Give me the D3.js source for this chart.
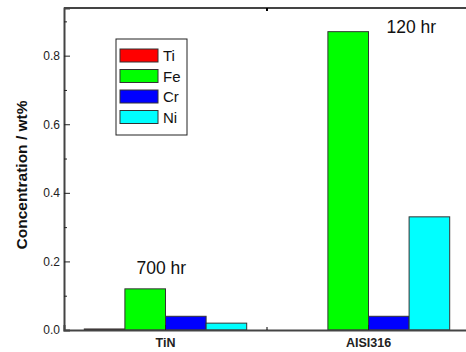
<!DOCTYPE html>
<html>
<head>
<meta charset="utf-8">
<script src="https://cdn.jsdelivr.net/npm/d3@7"></script>
<style>
  body { margin: 0; background: #fff; }
  svg { display: block; font-family: "Liberation Sans", Arial, sans-serif; }
</style>
</head>
<body>
<script>
// data
var samples = ['TiN', 'AISI316'];
var elements = ['Ti', 'Fe', 'Cr', 'Ni'];
var colors = ['#ff0000', '#00ff00', '#0000ff', '#00ffff'];
var tinValues = [0.003, 0.12, 0.04, 0.02];
var aisiValues = [0, 0.87, 0.04, 0.33];
var yTicks = [0, 0.2, 0.4, 0.6, 0.8];
var yMinor = [0.1, 0.3, 0.5, 0.7, 0.9];
var notes = [{text: '700 hr', sample: 'TiN', y: 0.163, dx: -29}, {text: '120 hr', sample: 'AISI316', y: 0.865, dx: 18}];

var W = 466, H = 352;
var m = {left: 64, top: 8, bottom: 22};
var values = [tinValues, aisiValues];

var svg = d3.select('body').append('svg').attr('width', W).attr('height', H);

var x = d3.scaleBand().domain(samples).range([m.left, 470]);
var xs = d3.scaleBand().domain(elements).range([x.bandwidth() * 0.1, x.bandwidth() * 0.9]);
var y = d3.scaleLinear().domain([0, 0.939]).range([H - m.bottom, m.top]);

// bars
samples.forEach(function(s, i) {
  svg.append('g').attr('transform', 'translate(' + x(s) + ',0)')
    .selectAll('rect').data(values[i]).enter().append('rect')
    .attr('x', function(d, j) { return xs(elements[j]); })
    .attr('y', function(d) { return y(d); })
    .attr('width', xs.bandwidth())
    .attr('height', function(d) { return y(0) - y(d); })
    .attr('fill', function(d, j) { return colors[j]; })
    .attr('stroke', function(d) { return d > 0 ? '#333' : 'none'; })
    .attr('stroke-width', 1);
});

// axes
var axisCol = '#444';
var yAxis = svg.append('g').attr('transform', 'translate(' + m.left + ',0)')
  .call(d3.axisLeft(y).tickValues(yTicks).tickFormat(d3.format('.1f')).tickSize(-6).tickPadding(4));
yAxis.selectAll('text').attr('font-size', 12).attr('fill', '#222').attr('font-family', '"Liberation Sans", Arial');
svg.append('g').attr('transform', 'translate(' + m.left + ',0)')
  .call(d3.axisLeft(y).tickValues(yMinor).tickSize(-3).tickFormat(''))
  .select('.domain').remove();

var xAxis = svg.append('g').attr('transform', 'translate(0,' + y(0) + ')')
  .call(d3.axisBottom(x).tickSize(-5).tickPadding(8));
xAxis.selectAll('text').attr('font-size', 12.5).attr('font-weight', 'bold').attr('fill', '#222').attr('font-family', '"Liberation Sans", Arial');
xAxis.append('line').attr('x1', x.step() + m.left).attr('x2', x.step() + m.left).attr('y2', -3).attr('stroke', '#000');

var topAxis = svg.append('g').attr('transform', 'translate(0,' + m.top + ')');
topAxis.append('line').attr('x1', m.left).attr('x2', W).attr('stroke', axisCol).attr('stroke-width', 2);
topAxis.append('line').attr('x1', x.step() + m.left).attr('x2', x.step() + m.left).attr('y2', 3).attr('stroke', '#000').attr('stroke-width', 2);

svg.selectAll('.domain').attr('stroke', axisCol).attr('stroke-width', 2);
svg.selectAll('.tick line').attr('stroke', '#222');

// y label
svg.append('text').attr('transform', 'translate(27,175) rotate(-90)')
  .attr('text-anchor', 'middle').attr('font-size', 15.5).attr('font-weight', 'bold').attr('fill', '#111')
  .text('Concentration / wt%');

// annotations
svg.selectAll('.note').data(notes).enter().append('text').attr('class', 'note')
  .attr('x', function(d) { return x(d.sample) + x.bandwidth() / 2 + d.dx; })
  .attr('y', function(d) { return y(d.y); })
  .attr('font-size', 17.5).attr('fill', '#111')
  .text(function(d) { return d.text; });

// legend
var lg = svg.append('g').attr('transform', 'translate(116,39)');
lg.append('rect').attr('width', 71).attr('height', 96).attr('fill', '#fff').attr('stroke', '#222').attr('stroke-width', 1);
var row = lg.selectAll('.row').data(elements).enter().append('g')
  .attr('transform', function(d, i) { return 'translate(4,' + (10 + i * 20.5) + ')'; });
row.append('rect').attr('width', 38).attr('height', 13)
  .attr('fill', function(d, i) { return colors[i]; }).attr('stroke', '#333');
row.append('text').attr('x', 43).attr('y', 12).attr('font-size', 15).attr('fill', '#111').text(function(d) { return d; });
</script>
</body>
</html>
